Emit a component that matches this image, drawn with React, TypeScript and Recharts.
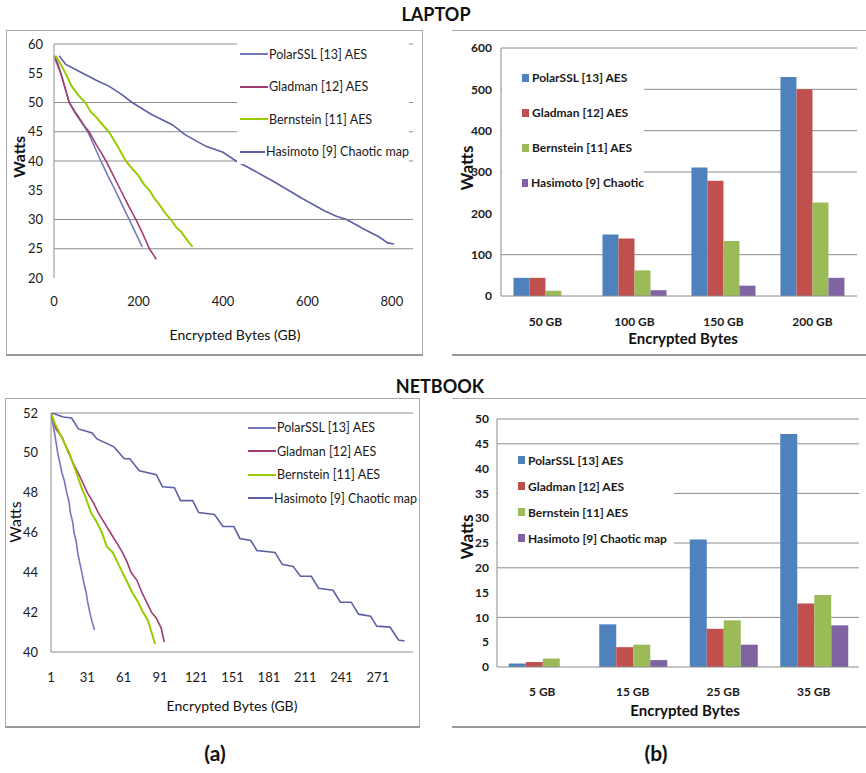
import React from "react";
import {
  LineChart,
  Line,
  BarChart,
  Bar,
  XAxis,
  YAxis,
  CartesianGrid,
  Legend,
} from "recharts";

const FONT = "Lato, 'Liberation Sans', sans-serif";
const GRID = "#8c8c8c";

const seriesNames = [
  "PolarSSL [13] AES",
  "Gladman [12] AES",
  "Bernstein [11] AES",
  "Hasimoto [9] Chaotic map",
];
const laptopBarNames = [
  "PolarSSL [13] AES",
  "Gladman [12] AES",
  "Bernstein [11] AES",
  "Hasimoto [9] Chaotic",
];
const lineColors = ["#7378bd", "#a33a74", "#99cc00", "#5d60a6"];
const barColors = ["#4f81bd", "#c0504d", "#9bbb59", "#8064a2"];

// LAPTOP (a): [GB, Watts]
const laptopPolar = [
  [2, 57.5], [8, 56.4], [16, 55], [26, 52.6], [36, 50], [50, 48.2], [65, 46.6],
  [80, 45], [95, 42.6], [111, 40], [128, 37.4], [145, 35], [162, 32.4],
  [178, 30], [194, 27.6], [209, 25.3],
];
const laptopGladman = [
  [2, 58], [9, 56.6], [16, 55], [26, 52.5], [36, 50], [48, 48.6], [60, 47.3],
  [72, 46], [83, 45], [100, 42.8], [112, 41.4], [123, 40], [140, 37.6],
  [158, 35], [176, 32.4], [194, 30], [210, 27.6], [226, 25], [235, 24], [242, 23.2],
];
const laptopBernstein = [
  [4, 58], [12, 57], [20, 56], [30, 54.6], [40, 53], [56, 51.4], [74, 50],
  [88, 48.3], [100, 47.5], [115, 46.2], [130, 45], [150, 42.6], [170, 40],
  [186, 38.6], [200, 37.5], [213, 36], [226, 35], [238, 33.6], [250, 32.5],
  [264, 31], [277, 30], [290, 28.6], [300, 28], [314, 26.6], [328, 25.3],
];
const laptopHasimoto = [
  [12, 58], [28, 56.5], [60, 55.3], [100, 53.8], [130, 52.8], [160, 51.4],
  [185, 50], [230, 48], [280, 46.2], [310, 44.5], [360, 42.5], [400, 41.5],
  [431, 40], [470, 38.5], [520, 36.5], [555, 35], [590, 33.5], [640, 31.5],
  [670, 30.5], [693, 30], [730, 28.5], [770, 27], [790, 26], [805, 25.8],
];

// NETBOOK (a): [GB, Watts]
const netPolar = [
  [1, 52], [3, 51.3], [5, 50.6], [6.5, 50], [8, 49.6], [10, 49], [12, 48.6],
  [14, 48], [16, 47.5], [17, 47], [19, 46.5], [20, 46], [22, 45.5], [23, 45],
  [25, 44.4], [26.5, 44], [28, 43.5], [30, 43], [31, 42.6], [33, 42],
  [35, 41.5], [37, 41.1],
];
const netGladman = [
  [1, 52], [5, 51.2], [10, 50.8], [15.5, 50], [20, 49.4], [25, 48.8], [31, 48],
  [36, 47.5], [40, 47], [45, 46.5], [50, 46], [55, 45.5], [60, 45], [64, 44.5],
  [67, 44], [72, 43.6], [76, 43], [80, 42.5], [84, 42], [88, 41.7], [92, 41.2],
  [94.5, 40.5],
];
const netBernstein = [
  [1, 52], [4, 51.5], [8, 51], [12, 50.5], [16, 50], [19, 49.5], [22, 49],
  [26.5, 48.2], [30, 47.7], [34, 47], [39, 46.5], [43, 46], [47, 45.3],
  [52, 45], [56, 44.5], [60, 44], [64, 43.5], [68, 43], [73, 42.5], [77, 42],
  [81, 41.6], [84, 41], [87, 40.4],
];
const netHasimoto = [
  [2, 52], [11, 51.8], [18, 51.75], [23.7, 51.2], [35, 51], [39, 50.7],
  [53, 50.3], [61.5, 49.7], [66, 49.7], [74, 49.1], [88, 48.9], [93, 48.3],
  [103, 48.25], [108, 47.6], [118, 47.6], [123, 47], [136, 46.9], [143, 46.3],
  [152, 46.3], [157, 45.7], [166, 45.6], [171, 45.1], [186, 45], [192, 44.4],
  [201, 44.3], [207, 43.8], [216, 43.8], [222, 43.2], [234, 43.1], [240, 42.5],
  [249, 42.5], [255, 41.9], [265, 41.8], [270, 41.3], [281, 41.25], [288, 40.6],
  [293, 40.55],
];

// LAPTOP (b)
const laptopCats = ["50 GB", "100 GB", "150 GB", "200 GB"];
const laptopPolarW = [44, 149, 311, 530];
const laptopGladmanW = [44, 139, 279, 500];
const laptopBernsteinW = [13, 62, 133, 226];
const laptopHasimotoW = [0, 14, 25, 44];

// NETBOOK (b)
const netCats = ["5 GB", "15 GB", "25 GB", "35 GB"];
const netPolarW = [0.7, 8.6, 25.7, 47];
const netGladmanW = [1, 4, 7.7, 12.8];
const netBernsteinW = [1.7, 4.5, 9.4, 14.5];
const netHasimotoW = [0, 1.4, 4.5, 8.4];

const toPts = (arr: number[][]) => arr.map(([x, y]) => ({ x, y }));
const keys = ["polar", "gladman", "bernstein", "hasimoto"];

const laptopLines = [laptopPolar, laptopGladman, laptopBernstein, laptopHasimoto].map(toPts);
const netLines = [netPolar, netGladman, netBernstein, netHasimoto].map(toPts);

const laptopBars = laptopCats.map((cat, i) => ({
  cat,
  polar: laptopPolarW[i],
  gladman: laptopGladmanW[i],
  bernstein: laptopBernsteinW[i],
  hasimoto: laptopHasimotoW[i],
}));
const netBars = netCats.map((cat, i) => ({
  cat,
  polar: netPolarW[i],
  gladman: netGladmanW[i],
  bernstein: netBernsteinW[i],
  hasimoto: netHasimotoW[i],
}));

const tickStyle = { fill: "#1a1a1a", fontSize: 13, fontFamily: FONT };
const boldTick = { fill: "#1a1a1a", fontSize: 12, fontFamily: FONT, fontWeight: 700 };

const Text = ({ x, y, children, size = 13, bold = false, rotate = false }: any) => (
  <div
    style={{
      position: "absolute",
      left: x,
      top: y,
      transform: `translate(-50%, -50%)${rotate ? " rotate(-90deg)" : ""}`,
      whiteSpace: "nowrap",
      fontFamily: FONT,
      fontSize: size,
      fontWeight: bold ? 700 : 400,
      color: "#111",
      lineHeight: 1,
    }}
  >
    {children}
  </div>
);

const lineLegend = (rowGap: number) => () => (
  <div style={{ background: "#fff", height: "100%", fontFamily: FONT, fontSize: 12.5, whiteSpace: "nowrap" }}>
    {seriesNames.map((n, i) => (
      <div key={n} style={{ display: "flex", alignItems: "center", height: rowGap, color: "#1a1a1a" }}>
        <span style={{ width: 28, height: 2, background: lineColors[i], marginLeft: 3, marginRight: 1 }} />
        {n}
      </div>
    ))}
  </div>
);

const barLegend = (names: string[], rowGap: number) => () => (
  <div style={{ background: "#fff", height: "100%", fontFamily: FONT, fontSize: 12, fontWeight: 700, whiteSpace: "nowrap" }}>
    {names.map((n, i) => (
      <div key={n} style={{ display: "flex", alignItems: "center", height: rowGap, color: "#1a1a1a" }}>
        <span style={{ width: 7, height: 8, background: barColors[i], marginLeft: 20, marginRight: 3 }} />
        {n}
      </div>
    ))}
  </div>
);

export default function App() {
  return (
    <div style={{ position: "absolute", left: 0, top: 0, width: 866, height: 773, background: "#fff", overflow: "hidden" }}>
      <Text x={436} y={14} size={18} bold>LAPTOP</Text>
      <Text x={440} y={386} size={18} bold>NETBOOK</Text>
      <Text x={215} y={752} size={21} bold>(a)</Text>
      <Text x={656} y={752} size={21} bold>(b)</Text>

      {/* frames */}
      <div style={{ position: "absolute", left: 6, top: 30, width: 415, height: 323, border: "1px solid #a8a8a8", borderBottom: "2px solid #999" }} />
      <div style={{ position: "absolute", left: 452, top: 30, width: 414, height: 323, borderTop: "1px solid #a8a8a8", borderBottom: "2px solid #999" }} />
      <div style={{ position: "absolute", left: 5, top: 398, width: 413, height: 327, border: "1px solid #a8a8a8", borderBottom: "2px solid #999" }} />
      <div style={{ position: "absolute", left: 452, top: 398, width: 414, height: 327, borderTop: "1px solid #a8a8a8", borderBottom: "2px solid #999" }} />

      {/* LAPTOP lines */}
      <div style={{ position: "absolute", left: 0, top: 0 }}>
        <LineChart width={430} height={360} margin={{ top: 44, right: 17, bottom: 52, left: 14 }}>
          <CartesianGrid vertical={false} horizontalValues={[25, 30, 40, 45, 50, 60]} stroke={GRID} />
          <XAxis type="number" dataKey="x" domain={[0, 850]} ticks={[0, 200, 400, 600, 800]} axisLine={false} tickLine={false} tickSize={0} tickMargin={19} height={30} tick={tickStyle} allowDataOverflow />
          <YAxis type="number" domain={[20, 60]} ticks={[20, 25, 30, 35, 40, 45, 50, 55, 60]} width={40} axisLine={{ stroke: GRID }} tickLine={false} tickSize={0} tickMargin={11} tick={tickStyle} allowDataOverflow />
          {laptopLines.map((d, i) => (
            <Line key={keys[i]} data={d} dataKey="y" stroke={lineColors[i]} strokeWidth={i === 2 ? 2 : 1.6} dot={false} isAnimationActive={false} />
          ))}
          <Legend layout="vertical" align="center" verticalAlign="middle" content={lineLegend(32.5)} wrapperStyle={{ left: 237, top: 38, width: 172, height: 126 }} />
        </LineChart>
      </div>
      <Text x={19} y={157} size={16} bold rotate>Watts</Text>
      <Text x={235} y={335} size={14}>Encrypted Bytes (GB)</Text>

      {/* LAPTOP bars */}
      <div style={{ position: "absolute", left: 430, top: 0 }}>
        <BarChart width={436} height={360} data={laptopBars} margin={{ top: 48, right: 9, bottom: 34, left: 31 }} barCategoryGap="14%" barGap={0}>
          <CartesianGrid vertical={false} horizontalValues={[100, 300, 400, 500, 600]} stroke={GRID} />
          <XAxis dataKey="cat" axisLine={{ stroke: GRID }} tickLine={false} tickSize={0} tickMargin={21} height={30} tick={boldTick} />
          <YAxis domain={[0, 600]} ticks={[0, 100, 200, 300, 400, 500, 600]} width={40} axisLine={{ stroke: GRID }} tickLine={false} tickSize={0} tickMargin={9} tick={boldTick} />
          {keys.map((k, i) => (
            <Bar key={k} dataKey={k} fill={barColors[i]} isAnimationActive={false} />
          ))}
          <Legend layout="vertical" align="center" verticalAlign="middle" content={barLegend(laptopBarNames, 35)} wrapperStyle={{ left: 72, top: 60, width: 142, height: 140 }} />
        </BarChart>
      </div>
      <Text x={466} y={168} size={17} bold rotate>Watts</Text>
      <Text x={683} y={338} size={15} bold>Encrypted Bytes</Text>

      {/* NETBOOK lines */}
      <div style={{ position: "absolute", left: 0, top: 365 }}>
        <LineChart width={430} height={365} margin={{ top: 48, right: 17, bottom: 48, left: 11 }}>
          <CartesianGrid vertical={false} horizontalValues={[52]} stroke={GRID} />
          <XAxis type="number" dataKey="x" domain={[1, 300]} ticks={[1, 31, 61, 91, 121, 151, 181, 211, 241, 271]} axisLine={{ stroke: GRID }} tickLine={false} tickSize={0} tickMargin={21} height={30} tick={tickStyle} allowDataOverflow />
          <YAxis type="number" domain={[40, 52]} ticks={[40, 42, 44, 46, 48, 50, 52]} width={40} axisLine={{ stroke: GRID }} tickLine={false} tickSize={0} tickMargin={13} tick={tickStyle} allowDataOverflow />
          {netLines.map((d, i) => (
            <Line key={keys[i]} data={d} dataKey="y" stroke={lineColors[i]} strokeWidth={i === 2 ? 2 : 1.6} dot={false} isAnimationActive={false} />
          ))}
          <Legend layout="vertical" align="center" verticalAlign="middle" content={lineLegend(23.5)} wrapperStyle={{ left: 245, top: 51, width: 172, height: 95 }} />
        </LineChart>
      </div>
      <Text x={15} y={522} size={16} rotate>Watts</Text>
      <Text x={232} y={706} size={14}>Encrypted Bytes (GB)</Text>

      {/* NETBOOK bars */}
      <div style={{ position: "absolute", left: 430, top: 365 }}>
        <BarChart width={436} height={365} data={netBars} margin={{ top: 54, right: 7, bottom: 33, left: 27 }} barCategoryGap="13%" barGap={0}>
          <CartesianGrid vertical={false} horizontalValues={[10, 20, 25, 35, 45, 50]} stroke={GRID} />
          <XAxis dataKey="cat" axisLine={{ stroke: GRID }} tickLine={false} tickSize={0} tickMargin={20} height={30} tick={boldTick} />
          <YAxis domain={[0, 50]} ticks={[0, 5, 10, 15, 20, 25, 30, 35, 40, 45, 50]} width={40} axisLine={{ stroke: GRID }} tickLine={false} tickSize={0} tickMargin={8} tick={boldTick} />
          {keys.map((k, i) => (
            <Bar key={k} dataKey={k} fill={barColors[i]} isAnimationActive={false} />
          ))}
          <Legend layout="vertical" align="center" verticalAlign="middle" content={barLegend(seriesNames, 26)} wrapperStyle={{ left: 68, top: 82, width: 176, height: 114 }} />
        </BarChart>
      </div>
      <Text x={466} y={537} size={17} bold rotate>Watts</Text>
      <Text x={685} y={710} size={15} bold>Encrypted Bytes</Text>
    </div>
  );
}
